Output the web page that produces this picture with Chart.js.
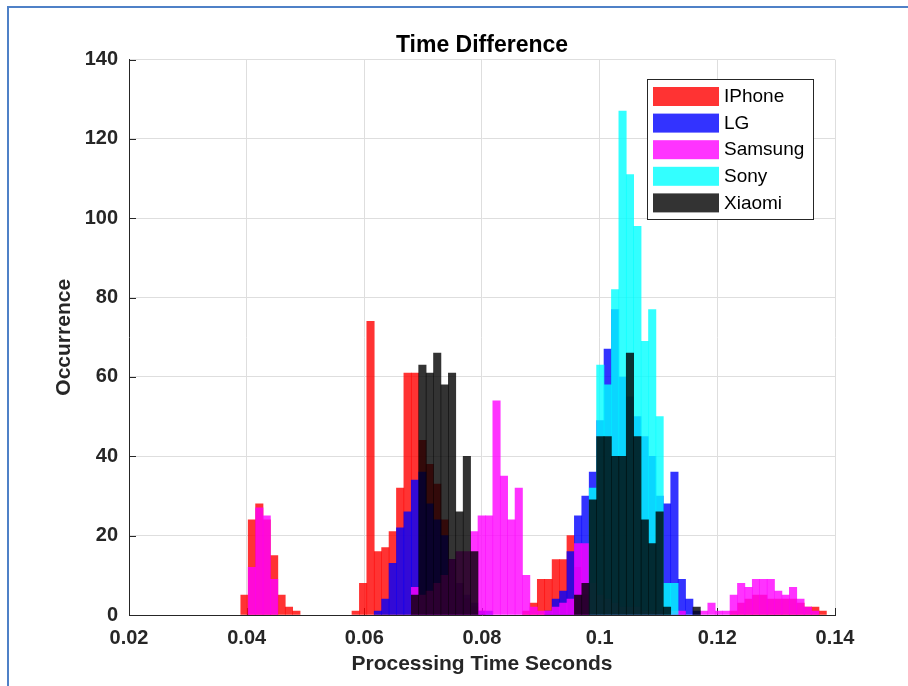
<!DOCTYPE html>
<html>
<head>
<meta charset="utf-8">
<script src="https://cdn.jsdelivr.net/npm/chart.js@4.4.0/dist/chart.umd.min.js"></script>
<style>
  html, body { margin: 0; padding: 0; background: #fff; overflow: hidden; }
  #wrap { position: relative; width: 908px; height: 686px; }
  #frame { position: absolute; left: 7px; top: 6px; width: 1000px; height: 1000px;
           border-left: 2px solid #4f81c7; border-top: 2px solid #4f81c7; pointer-events: none; }
</style>
</head>
<body>
<div id="wrap">
  <canvas id="hist" width="908" height="686"></canvas>
  <div id="frame"></div>
</div>
<script>
// bin centres (seconds), common to all phones
var bins = [
  0.03963, 0.04089, 0.04215, 0.04341, 0.04467, 0.04593, 0.04719, 0.04845, 0.04971, 0.05097,
  0.05223, 0.05349, 0.05475, 0.05601, 0.05727, 0.05853, 0.05979, 0.06105, 0.06231, 0.06357,
  0.06483, 0.06609, 0.06735, 0.06861, 0.06987, 0.07113, 0.07239, 0.07365, 0.07491, 0.07617,
  0.07743, 0.07869, 0.07995, 0.08121, 0.08247, 0.08373, 0.08499, 0.08625, 0.08751, 0.08877,
  0.09003, 0.09129, 0.09255, 0.09381, 0.09507, 0.09633, 0.09759, 0.09885, 0.10011, 0.10137,
  0.10263, 0.10389, 0.10515, 0.10641, 0.10767, 0.10893, 0.11019, 0.11145, 0.11271, 0.11397,
  0.11523, 0.11649, 0.11775, 0.11901, 0.12027, 0.12153, 0.12279, 0.12405, 0.12531, 0.12657,
  0.12783, 0.12909, 0.13035, 0.13161, 0.13287, 0.13413, 0.13539, 0.13665, 0.13791, 0.13917
];

var phones = ['IPhone', 'LG', 'Samsung', 'Sony', 'Xiaomi'];

var iphone = [
  5, 24, 28, 24, 15, 5, 2, 1, 0, 0,
  0, 0, 0, 0, 0, 1, 8, 74, 16, 17,
  21, 32, 61, 61, 44, 38, 33, 24, 14, 8,
  4, 2, 1, 0, 0, 0, 0, 0, 1, 3,
  9, 9, 14, 14, 20, 12, 5, 2, 0, 0,
  0, 0, 0, 0, 0, 0, 0, 0, 0, 0,
  0, 0, 0, 0, 0, 0, 1, 3, 4, 5,
  5, 4, 4, 4, 4, 3, 2, 2, 1, 0
];
var lg = [
  0, 0, 0, 0, 0, 0, 0, 0, 0, 0,
  0, 0, 0, 0, 0, 0, 0, 0, 1, 4,
  13, 22, 26, 34, 36, 28, 24, 20, 14, 8,
  5, 3, 1, 1, 0, 0, 0, 0, 0, 0,
  0, 1, 4, 6, 16, 25, 30, 36, 49, 67,
  77, 60, 55, 50, 45, 40, 30, 28, 36, 9,
  4, 1, 0, 0, 0, 0, 0, 0, 0, 0,
  0, 0, 0, 0, 0, 0, 0, 0, 0, 0
];
var samsung = [
  0, 12, 27, 25, 9, 0, 0, 0, 0, 0,
  0, 0, 0, 0, 0, 0, 0, 0, 0, 0,
  0, 0, 0, 7, 5, 6, 8, 10, 14, 16,
  16, 21, 25, 25, 54, 35, 24, 32, 10, 2,
  1, 1, 2, 3, 4, 18, 18, 8, 5, 4,
  3, 2, 2, 2, 1, 1, 1, 0, 1, 1,
  0, 0, 1, 3, 1, 1, 5, 8, 7, 9,
  9, 9, 6, 5, 7, 4, 2, 1, 0, 0
];
var sony = [
  0, 0, 0, 0, 0, 0, 0, 0, 0, 0,
  0, 0, 0, 0, 0, 0, 0, 0, 0, 0,
  0, 0, 0, 0, 0, 0, 0, 0, 0, 0,
  0, 0, 0, 0, 0, 0, 0, 0, 0, 0,
  0, 0, 0, 0, 0, 0, 0, 32, 63, 58,
  82, 127, 111, 98, 69, 77, 50, 8, 8, 0,
  0, 0, 0, 0, 0, 0, 0, 0, 0, 0,
  0, 0, 0, 0, 0, 0, 0, 0, 0, 0
];
var xiaomi = [
  0, 0, 0, 0, 0, 0, 0, 0, 0, 0,
  0, 0, 0, 0, 0, 0, 0, 0, 0, 0,
  0, 0, 0, 5, 63, 61, 66, 58, 61, 26,
  40, 16, 0, 0, 0, 0, 0, 0, 0, 0,
  0, 0, 0, 0, 0, 5, 8, 29, 45, 45,
  40, 40, 66, 45, 24, 18, 26, 2, 0, 0,
  0, 2, 0, 0, 0, 0, 0, 0, 0, 0,
  0, 0, 0, 0, 0, 0, 0, 0, 0, 0
];

var counts = [iphone, lg, samsung, sony, xiaomi];
var colors = ['rgba(255,0,0,0.8)', 'rgba(0,0,255,0.8)', 'rgba(255,0,255,0.8)',
              'rgba(0,255,255,0.8)', 'rgba(0,0,0,0.8)'];

var xTicks = [0.02, 0.04, 0.06, 0.08, 0.1, 0.12, 0.14];
var yTicks = [0, 20, 40, 60, 80, 100, 120, 140];

var axisColor = '#262626';
Chart.defaults.font.family = '"Liberation Sans", Arial, Helvetica, sans-serif';

// empty bins are left out so no hairline is drawn on the baseline
function toPoints(arr) {
  return arr.map(function(v, i) { return {x: bins[i], y: v === 0 ? null : v}; });
}

var datasets = phones.map(function(name, i) {
  return {
    label: name,
    data: toPoints(counts[i]),
    backgroundColor: colors[i],
    borderWidth: 0,
    barPercentage: 1.0,
    categoryPercentage: 1.0,
    grouped: false,
    order: phones.length - i   // first phone drawn first, Xiaomi on top
  };
});

// MATLAB style ticks pointing into the axes
var innerTicks = {
  id: 'innerTicks',
  beforeDatasetsDraw: function(chart) {
    var ctx = chart.ctx, a = chart.chartArea, x = chart.scales.x, y = chart.scales.y;
    ctx.save();
    ctx.strokeStyle = axisColor;
    ctx.lineWidth = 1;
    ctx.beginPath();
    y.ticks.forEach(function(t) {
      var py = Math.round(y.getPixelForValue(t.value)) + 0.5;
      ctx.moveTo(a.left, py); ctx.lineTo(a.left + 7, py);
    });
    x.ticks.forEach(function(t) {
      var px = Math.round(x.getPixelForValue(t.value)) + 0.5;
      ctx.moveTo(px, a.bottom); ctx.lineTo(px, a.bottom - 7);
    });
    ctx.stroke();
    ctx.restore();
  }
};

// boxed legend in the upper right corner
var legendBox = {
  id: 'legendBox',
  afterDraw: function(chart) {
    var ctx = chart.ctx;
    var bx = 647, by = 79, bw = 166, bh = 140;
    ctx.save();
    ctx.fillStyle = '#fff';
    ctx.fillRect(bx, by, bw, bh);
    ctx.strokeStyle = axisColor;
    ctx.lineWidth = 1;
    ctx.strokeRect(bx + 0.5, by + 0.5, bw, bh);
    ctx.font = '19px "Liberation Sans", Arial, sans-serif';
    ctx.textBaseline = 'middle';
    chart.data.datasets.forEach(function(ds, i) {
      var ry = by + 8 + i * 26.6;
      ctx.fillStyle = ds.backgroundColor;
      ctx.fillRect(bx + 6, ry, 66, 19);
      ctx.fillStyle = '#000';
      ctx.fillText(ds.label, bx + 77, ry + 10);
    });
    ctx.restore();
  }
};

var ctx = document.getElementById('hist').getContext('2d');
var chart = new Chart(ctx, {
  type: 'bar',
  data: { datasets: datasets },
  plugins: [innerTicks, legendBox],
  options: {
    responsive: false,
    animation: false,
    devicePixelRatio: 1,
    layout: { padding: { left: 0, right: 73, top: 0, bottom: 0 } },
    plugins: {
      legend: { display: false },
      tooltip: { enabled: false },
      title: {
        display: true,
        text: 'Time Difference',
        fullSize: false,
        color: '#000',
        font: { size: 23, weight: 'bold' },
        padding: { top: 32, bottom: 0 }
      }
    },
    scales: {
      x: {
        type: 'linear',
        min: 0.02,
        max: 0.14,
        offset: false,
        afterFit: function(s) { s.height = 71; },
        afterBuildTicks: function(s) { s.ticks = xTicks.map(function(v) { return {value: v}; }); },
        grid: { color: '#dedede', offset: false, drawTicks: false },
        border: { display: true, color: axisColor, width: 1 },
        ticks: {
          color: axisColor,
          padding: 11,
          maxRotation: 0,
          font: { size: 20, weight: 'bold' },
          callback: function(v) { return String(parseFloat(v.toFixed(2))); }
        },
        title: {
          display: true,
          text: 'Processing Time Seconds',
          color: axisColor,
          font: { size: 21, weight: 'bold' },
          padding: { top: 0, bottom: 9 }
        }
      },
      y: {
        min: 0,
        max: 140,
        afterFit: function(s) { s.width = 129; },
        afterBuildTicks: function(s) { s.ticks = yTicks.map(function(v) { return {value: v}; }); },
        grid: { color: '#dedede', drawTicks: false },
        border: { display: true, color: axisColor, width: 1 },
        ticks: {
          color: axisColor,
          padding: 11,
          font: { size: 20, weight: 'bold' }
        },
        title: {
          display: true,
          text: 'Occurrence',
          color: axisColor,
          font: { size: 21, weight: 'bold' },
          padding: { top: 52, bottom: 0 }
        }
      }
    }
  }
});
</script>
</body>
</html>
